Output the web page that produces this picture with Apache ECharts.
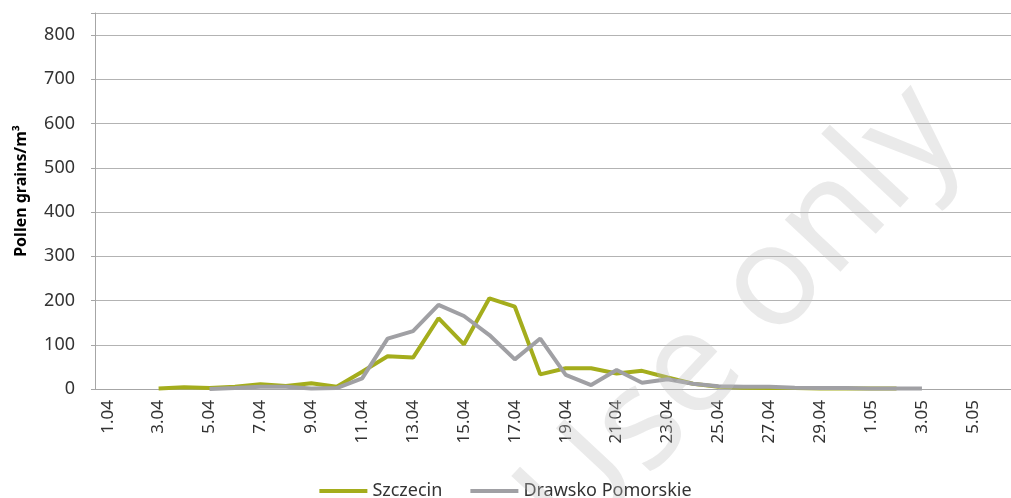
<!DOCTYPE html>
<html>
<head>
<meta charset="utf-8">
<script src="https://cdn.jsdelivr.net/npm/echarts@6/dist/echarts.min.js"></script>
<style>
html,body{margin:0;padding:0;background:#fff;}
#c{width:1011px;height:498px;}
</style>
</head>
<body>
<div id="c"></div>
<script>
const categories = ['1.04','2.04','3.04','4.04','5.04','6.04','7.04','8.04','9.04','10.04',
  '11.04','12.04','13.04','14.04','15.04','16.04','17.04','18.04','19.04','20.04',
  '21.04','22.04','23.04','24.04','25.04','26.04','27.04','28.04','29.04','30.04',
  '1.05','2.05','3.05','4.05','5.05','6.05'];
const szczecin = [null,null,1,4,2,5,11,7,13,5,
  39,74,71,160,101,205,186,33,47,47,
  35,41,26,12,5,3,2,2,1,1,
  1,1,null,null,null,null];
const drawsko = [null,null,null,null,0,2,5,5,1,2,
  24,114,131,190,165,122,67,114,32,9,
  43,14,22,12,6,5,5,3,2,2,
  1,1,1,null,null,null];
const yTicks = [0,100,200,300,400,500,600,700,800];
const watermark = 'Use only';

const chart = echarts.init(document.getElementById('c'));
const font = 'Noto Sans';
chart.setOption({
  animation: false,
  textStyle: {fontFamily: font},
  grid: {left: 95, right: -9, top: 13, bottom: 109, containLabel: false},
  legend: {
    bottom: -7, left: 'center',
    itemWidth: 48, itemHeight: 4, itemGap: 28, icon: 'rect',
    textStyle: {fontSize: 18, color: '#333', fontFamily: font},
    data: ['Szczecin', 'Drawsko Pomorskie']
  },
  xAxis: {
    type: 'category', data: categories, boundaryGap: true,
    axisLine: {lineStyle: {color: '#a6a6a6', width: 1}},
    axisTick: {interval: 1, length: 6, lineStyle: {color: '#a6a6a6'}},
    axisLabel: {interval: 1, rotate: 90, fontSize: 17, color: '#333', margin: 11, fontFamily: font},
    splitLine: {show: false}
  },
  yAxis: {
    type: 'value', min: 0, max: 850, interval: 100,
    name: 'Pollen grains/m³', nameLocation: 'middle', nameGap: 66,
    nameTextStyle: {fontSize: 16, fontWeight: 'bold', color: '#000', fontFamily: font, padding: [0, 0, 0, 20]},
    axisLine: {show: true, lineStyle: {color: '#a6a6a6'}},
    axisTick: {show: true, length: 4, lineStyle: {color: '#a6a6a6'}},
    axisLabel: {fontSize: 18, color: '#333', margin: 20, fontFamily: font,
      formatter: v => yTicks.indexOf(v) >= 0 ? String(v) : ''},
    splitLine: {lineStyle: {color: '#b3b3b3', width: 1}}
  },
  graphic: [{
    type: 'text', z: 100, silent: true,
    x: 742, y: 318, rotation: Math.PI * 47 / 180,
    style: {text: watermark, x: 0, y: 0, align: 'center', verticalAlign: 'middle',
      textAlign: 'center', textVerticalAlign: 'middle',
      fontSize: 142, fontFamily: font, fill: 'rgba(190,190,190,0.33)'}
  }],
  series: [
    {name: 'Szczecin', type: 'line', data: szczecin, showSymbol: false, symbol: 'none',
      lineStyle: {color: '#a4ad1c', width: 4}, itemStyle: {color: '#a4ad1c'}, z: 3},
    {name: 'Drawsko Pomorskie', type: 'line', data: drawsko, showSymbol: false, symbol: 'none',
      lineStyle: {color: '#a0a0a4', width: 4}, itemStyle: {color: '#a0a0a4'}, z: 4}
  ]
});
</script>
</body>
</html>
